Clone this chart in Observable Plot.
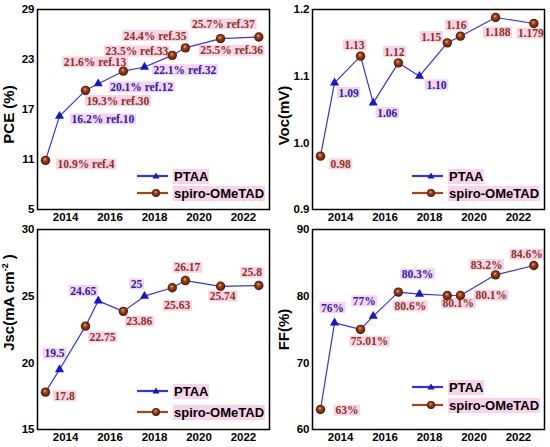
<!DOCTYPE html>
<html><head><meta charset="utf-8">
<script src="https://cdn.jsdelivr.net/npm/d3@7"></script>
<script src="https://cdn.jsdelivr.net/npm/@observablehq/plot@0.6"></script>
<style>
body{margin:0;background:#fff;}
#wrap{position:relative;width:550px;height:447px;overflow:hidden;}
.panel{position:absolute;width:275px;}
.legend{position:absolute;font-family:"Liberation Sans",Arial,sans-serif;font-weight:bold;font-size:13px;color:#000;}
.legend .row{position:absolute;left:0;display:flex;align-items:center;height:16px;white-space:nowrap;}
.legend .row span{background:#f9d3ea;padding:0 1px;line-height:15px;}
.legend svg{display:block;margin-right:4px;}
</style>
</head><body>
<svg width="0" height="0" style="position:absolute">
<defs>
<radialGradient id="ball" cx="50%" cy="50%" r="50%" fx="42%" fy="35%">
<stop offset="0%" stop-color="#f2b890"/>
<stop offset="35%" stop-color="#a8461a"/>
<stop offset="100%" stop-color="#4e1604"/>
</radialGradient>
</defs>
</svg>
<div id="wrap"></div>
<script>
// ---- data ----
const years = [2013.10, 2013.73, 2014.90, 2015.47, 2016.60, 2017.55, 2018.80, 2019.39, 2020.97, 2022.69];
const htm = ["spiro-OMeTAD","PTAA","spiro-OMeTAD","PTAA","spiro-OMeTAD","PTAA","spiro-OMeTAD","spiro-OMeTAD","spiro-OMeTAD","spiro-OMeTAD"];
const pce = [10.9, 16.2, 19.3, 20.1, 21.6, 22.1, 23.5, 24.4, 25.5, 25.7];
const pceRefs = ["ref.4","ref.10","ref.30","ref.12","ref.13","ref.32","ref.33","ref.35","ref.36","ref.37"];
const voc = [0.98, 1.09, 1.13, 1.06, 1.12, 1.10, 1.15, 1.16, 1.188, 1.179];
const vocText = ["0.98","1.09","1.13","1.06","1.12","1.10","1.15","1.16","1.188","1.179"];
const jsc = [17.8, 19.5, 22.75, 24.65, 23.86, 25, 25.63, 26.17, 25.74, 25.8];
const ff = [63, 76, 75.01, 77, 80.6, 80.3, 80.1, 80.1, 83.2, 84.6];
const xTicks = [2014, 2016, 2018, 2020, 2022];
const pceTicks = [5, 11, 17, 23, 29];
const vocTicks = [0.9, 1.0, 1.1, 1.2];
const jscTicks = [15, 20, 25, 30];
const ffTicks = [60, 70, 80, 90];

// ---- label placement (anchor, dx, dy) ----
const place = {
  pce: [["start",12,4],["start",12,3],["start",1,10.5],["start",12,3.5],["end",3,-9],["start",9,3],["end",-4,-4],["end",1,-12],["middle",11,12],["end",-4,-13]],
  voc: [["start",10,8],["start",4,10],["middle",-6,-11],["start",4,10],["middle",-4,-11],["start",7,9],["end",-6,-6],["middle",-4,-11],["middle",2,15],["middle",-3,10]],
  jsc: [["start",9,4],["middle",-5,-16],["start",4,11],["middle",-15,-10],["start",3,10],["middle",-8,-12],["middle",5,18],["middle",2,-13],["middle",2,10],["middle",-7,-13]],
  ff:  [["start",15,1],["middle",-2,-15],["middle",9,12],["middle",-9,-15],["middle",12,14],["middle",-2,-20],["middle",11,8],["start",15,0],["middle",-9,-10],["middle",-7,-11]]
};

const panels = [
  {key:"pce", vals:pce, text:pce.map((v,i)=>`${v}% ${pceRefs[i]}`), ticks:pceTicks, fmt:d=>String(d), label:"PCE (%)", ldy:5, left:0, top:0, h:222, mt:9, mb:13, leg:[176,193]},
  {key:"voc", vals:voc, text:vocText, ticks:vocTicks, fmt:d=>d.toFixed(1), label:"Voc(mV)", ldy:6, left:275, top:0, h:222, mt:9, mb:13, leg:[176,193]},
  {key:"jsc", vals:jsc, text:jsc.map(String), ticks:jscTicks, fmt:d=>String(d), label:"Jsc(mA cm", sup:"-2", ldy:-27, left:0, top:222, h:225, mt:7, mb:18, leg:[169,190]},
  {key:"ff", vals:ff, text:ff.map(v=>`${v}%`), ticks:ffTicks, fmt:d=>String(d), label:"FF(%)", ldy:0, left:275, top:222, h:225, mt:7, mb:18, leg:[165,183]}
];

const BLUE_LINE = "#3434e6", BLUE_MARK = "#1414d2", BLUE_TXT = "#2424b4", BROWN_TXT = "#8e3416", BROWN_LINE = "#a0461e";
const wrap = document.getElementById("wrap");

for (const p of panels) {
  const rows = years.map((x,i)=>({x, v:p.vals[i], htm:htm[i], t:p.text[i], i}));
  const labelMarks = rows.map((r,k)=>{
    const [a,dx,dy] = place[p.key][k];
    return Plot.text([r], {x:"x", y:"v", text:"t", textAnchor:a, dx, dy, lineAnchor:"middle",
      fill: r.htm==="PTAA" ? BLUE_TXT : BROWN_TXT, fontFamily:"Liberation Serif, Times New Roman, serif",
      fontWeight:"bold", fontSize:11.5, className:"lbl"});
  });
  const chart = Plot.plot({
    width:275, height:p.h, marginLeft:37, marginRight:6, marginTop:p.mt, marginBottom:p.mb,
    style:{fontFamily:"Liberation Sans, Arial, sans-serif", fontWeight:"bold", color:"#000", background:"transparent", overflow:"visible"},
    x:{domain:[2012.74, 2023.17]},
    y:{domain:[p.ticks[0], p.ticks[p.ticks.length-1]]},
    marks:[
      ...labelMarks,
      Plot.line(rows, {x:"x", y:"v", stroke:BLUE_LINE, strokeWidth:1.2}),
      Plot.dot(rows.filter(r=>r.htm==="PTAA"), {x:"x", y:"v", symbol:"triangle", r:3.4, fill:BLUE_MARK}),
      Plot.dot(rows.filter(r=>r.htm!=="PTAA"), {x:"x", y:"v", r:4.7, fill:"url(#ball)"}),
      Plot.axisX({ticks:xTicks, tickFormat:d=>String(d), tickSize:0, tickPadding:3, label:null, fontSize:11.5, fontWeight:"bold"}),
      Plot.axisY({ticks:p.ticks, tickFormat:p.fmt, tickSize:0, tickPadding:3, label:null, fontSize:11.5, fontWeight:"bold"}),
      Plot.text([p.label], {frameAnchor:"left", textAnchor:"middle", lineAnchor:"middle", rotate:-90, dx:-28, dy:p.ldy, fontSize:15, fontWeight:"bold", fill:"#000", className:"ylab"}),
      Plot.frame({stroke:"#000", strokeWidth:1.5})
    ]
  });
  const div = document.createElement("div");
  div.className = "panel";
  div.style.left = p.left + "px";
  div.style.top = p.top + "px";
  div.style.height = p.h + "px";
  div.appendChild(chart);
  wrap.appendChild(div);

  // superscript in the y label
  if (p.sup) {
    const t = chart.querySelector(".ylab text");
    if (t) {
      const ns = "http://www.w3.org/2000/svg";
      t.textContent = p.label;
      const s = document.createElementNS(ns, "tspan");
      s.setAttribute("dy", "-6"); s.setAttribute("font-size", "9"); s.textContent = p.sup;
      const c = document.createElementNS(ns, "tspan");
      c.setAttribute("dy", "6"); c.textContent = " )";
      t.appendChild(s); t.appendChild(c);
    }
  }

  // pink boxes behind data labels
  chart.querySelectorAll(".lbl text").forEach(t=>{
    const b = t.getBBox();
    const r = document.createElementNS("http://www.w3.org/2000/svg","rect");
    r.setAttribute("x", b.x-1.5); r.setAttribute("y", b.y+0.5);
    r.setAttribute("width", b.width+3); r.setAttribute("height", b.height-1);
    r.setAttribute("fill", "#f9d3ea");
    const tr = t.getAttribute("transform"); if (tr) r.setAttribute("transform", tr);
    t.parentNode.insertBefore(r, t);
  });

  // legend
  const leg = document.createElement("div");
  leg.className = "legend";
  leg.style.left = "137px";
  leg.style.top = "0px";
  leg.innerHTML =
    `<div class="row" style="top:${p.leg[0]-8}px"><svg width="32" height="12"><line x1="0" y1="6" x2="31" y2="6" stroke="${BLUE_LINE}" stroke-width="2.2"/><path d="M19,2.5 L22.5,8.5 L15.5,8.5 Z" fill="${BLUE_MARK}"/></svg><span>PTAA</span></div>` +
    `<div class="row" style="top:${p.leg[1]-8}px"><svg width="32" height="12"><line x1="0" y1="6" x2="31" y2="6" stroke="${BROWN_LINE}" stroke-width="2.2"/><circle cx="19" cy="6" r="4" fill="url(#ball)"/></svg><span>spiro-OMeTAD</span></div>`;
  div.appendChild(leg);
}
</script>
</body></html>
